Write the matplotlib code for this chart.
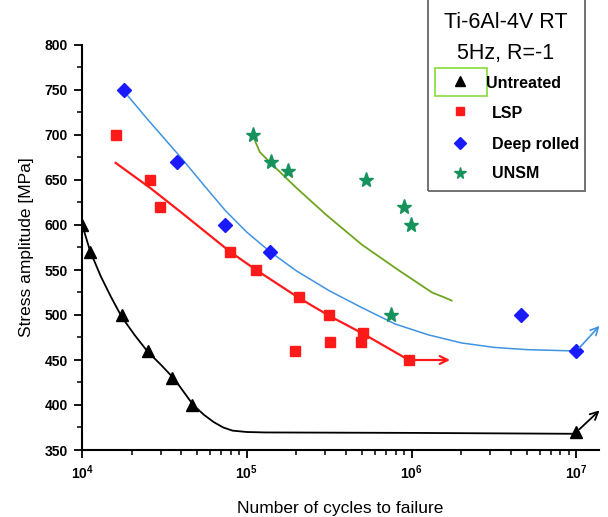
import math
import matplotlib
matplotlib.use('Agg')
import matplotlib.pyplot as plt
from matplotlib.lines import Line2D
from matplotlib.patches import Rectangle
from matplotlib.ticker import LogLocator, MultipleLocator, FuncFormatter, NullFormatter

# ---------------- data ----------------
untreated_n = [1.0e4, 1.12e4, 1.75e4, 2.53e4, 3.53e4, 4.62e4, 1.0e7]
untreated_s = [600, 570, 500, 460, 430, 400, 370]

lsp_n = [1.6e4, 2.59e4, 2.97e4, 7.95e4, 1.14e5, 2.07e5, 3.17e5, 5.1e5, 4.9e5, 3.2e5, 1.95e5, 9.6e5]
lsp_s = [700, 650, 620, 570, 550, 520, 500, 480, 470, 470, 460, 450]

deep_n = [1.79e4, 3.77e4, 7.41e4, 1.39e5, 4.62e6, 1.0e7]
deep_s = [750, 670, 600, 570, 500, 460]

unsm_n = [1.09e5, 1.41e5, 1.78e5, 5.27e5, 9.02e5, 9.95e5, 7.48e5]
unsm_s = [700, 670, 660, 650, 620, 600, 500]

# fitted trend curves
untreated_fit_n = [1.0e4, 1.12e4, 1.3e4, 1.5e4, 1.74e4, 2.1e4, 2.51e4, 3.0e4, 3.63e4, 4.2e4,
                   4.73e4, 5.5e4, 6.3e4, 7.2e4, 8.2e4, 1.0e5, 1.3e5, 1.0e6, 1.0e7]
untreated_fit_s = [601, 571, 543, 520, 498, 477, 459, 445, 429, 413,
                   400, 389, 381, 375, 371.5, 370, 369.5, 369, 368]

lsp_fit_n = [1.6e4, 2.6e4, 4.0e4, 7.95e4, 1.14e5, 2.07e5, 3.17e5, 5.1e5, 9.6e5]
lsp_fit_s = [669, 641, 614, 570, 550, 519, 499, 479, 450]

deep_fit_n = [1.79e4, 2.51e4, 3.98e4, 5.62e4, 7.41e4, 1.0e5, 1.39e5, 2.0e5, 3.16e5, 5.01e5,
              7.94e5, 1.26e6, 2.0e6, 3.16e6, 5.01e6, 1.0e7]
deep_fit_s = [749, 717, 675, 642, 616, 592, 570, 549, 527, 508,
              490, 478, 469, 464, 461.5, 460]

unsm_fit_n = [1.09e5, 1.13e5, 1.2e5, 1.41e5, 1.98e5, 3.0e5, 5.0e5, 8.3e5, 1.33e6, 1.58e6, 1.75e6]
unsm_fit_s = [700, 692, 681, 668, 642, 612, 578, 550, 525, 519.5, 516]

# run-out arrows (start, tip)
lsp_arrow_n, lsp_arrow_s = [9.6e5, 1.71e6], [450, 450]
deep_arrow_n, deep_arrow_s = [1.0e7, 1.38e7], [460, 488]
untreated_arrow_n, untreated_arrow_s = [1.0e7, 1.38e7], [370, 394]

legend_labels = ['Untreated', 'LSP', 'Deep rolled', 'UNSM']
legend_title = ['Ti-6Al-4V RT', '5Hz, R=-1']
x_label = 'Number of cycles to failure'
y_label = 'Stress amplitude [MPa]'

# ---------------- style ----------------
plt.rcParams['font.family'] = ['Liberation Sans', 'DejaVu Sans']
plt.rcParams['mathtext.fontset'] = 'custom'
plt.rcParams['mathtext.rm'] = 'Liberation Sans'
plt.rcParams['mathtext.bf'] = 'Liberation Sans:bold'

C_BLACK = '#000000'
C_RED = '#ff1a1a'
C_BLUE_M = '#1a1aff'
C_BLUE_L = '#3f93e0'
C_GREEN_M = '#16925c'
C_GREEN_L = '#6fa521'

W, H = 608, 517
fig = plt.figure(figsize=(W / 100, H / 100), dpi=100)
ax = fig.add_axes([82 / W, 1 - 450 / H, (599 - 82) / W, (450 - 45) / H])

ax.set_xscale('log')
ax.set_xlim(1e4, 1.37e7)
ax.set_ylim(350, 800)

# fit curves
ax.plot(untreated_fit_n, untreated_fit_s, color=C_BLACK, lw=1.3, zorder=2)
ax.plot(lsp_fit_n, lsp_fit_s, color=C_RED, lw=1.6, zorder=2)
ax.plot(deep_fit_n, deep_fit_s, color=C_BLUE_L, lw=1.1, zorder=2)
ax.plot(unsm_fit_n, unsm_fit_s, color=C_GREEN_L, lw=1.3, zorder=2)

# markers
ax.plot(untreated_n, untreated_s, ls='none', marker='^', ms=8.5, color=C_BLACK, zorder=3)
ax.plot(lsp_n, lsp_s, ls='none', marker='s', ms=7.5, color=C_RED, zorder=3)
ax.plot(deep_n, deep_s, ls='none', marker='D', ms=7, color=C_BLUE_M, zorder=3)
ax.plot(unsm_n, unsm_s, ls='none', marker='*', ms=11, color=C_GREEN_M, zorder=3)

# arrows
for an, as_, col, lw in [(lsp_arrow_n, lsp_arrow_s, C_RED, 1.6),
                         (deep_arrow_n, deep_arrow_s, C_BLUE_L, 1.2),
                         (untreated_arrow_n, untreated_arrow_s, C_BLACK, 1.3)]:
    ax.annotate('', xy=(an[1], as_[1]), xytext=(an[0], as_[0]),
                arrowprops=dict(arrowstyle='->', color=col, lw=lw, mutation_scale=14,
                                shrinkA=3, shrinkB=0),
                annotation_clip=False)

# axes styling
for s in ['top', 'right']:
    ax.spines[s].set_visible(False)
for s in ['left', 'bottom']:
    ax.spines[s].set_linewidth(1.5)

ax.yaxis.set_major_locator(MultipleLocator(50))
ax.yaxis.set_minor_locator(MultipleLocator(25))
ax.xaxis.set_major_locator(LogLocator(base=10, numticks=10))
ax.xaxis.set_minor_locator(LogLocator(base=10, subs=range(2, 10), numticks=20))
ax.xaxis.set_minor_formatter(NullFormatter())
ax.xaxis.set_major_formatter(FuncFormatter(lambda v, p: r'$\mathbf{10^{%d}}$' % round(math.log10(v))))

ax.tick_params(axis='both', which='major', direction='out', length=6, width=1.3,
               labelsize=10, pad=4)
ax.tick_params(axis='both', which='minor', direction='out', length=3.5, width=1.1)
for lab in ax.get_yticklabels():
    lab.set_fontweight('bold')

ax.set_xlabel(x_label, fontsize=12.5, labelpad=13)
ax.set_ylabel(y_label, fontsize=12.5, labelpad=8)

# ---------------- legend box (custom) ----------------
def fx(px):
    return px / W

def fy(py):
    return 1 - py / H

box = Rectangle((fx(428), fy(190.7)), fx(585) - fx(428), fy(-5) - fy(190.7),
                transform=fig.transFigure, fill=False, edgecolor='#666666', lw=1.3,
                clip_on=False)
fig.add_artist(box)

fig.text(fx(506), fy(23), legend_title[0], ha='center', va='center', fontsize=15.5)
fig.text(fx(506), fy(53), legend_title[1], ha='center', va='center', fontsize=15.5)

green_box = Rectangle((fx(435), fy(96)), fx(487) - fx(435), fy(68) - fy(96),
                      transform=fig.transFigure, fill=False, edgecolor='#86dc3c', lw=1.2)
fig.add_artist(green_box)

leg_markers = ['^', 's', 'D', '*']
leg_colors = [C_BLACK, C_RED, C_BLUE_M, C_GREEN_M]
leg_ms = [7.5, 6, 6.5, 8.5]
leg_my = [81, 111, 143, 173]
leg_tx = [486, 492, 492, 492]
leg_ty = [83, 113.5, 144, 173]
for lbl, mk, col, ms, my, tx, ty in zip(legend_labels, leg_markers, leg_colors, leg_ms,
                                        leg_my, leg_tx, leg_ty):
    fig.add_artist(Line2D([fx(460)], [fy(my)], transform=fig.transFigure, ls='none',
                          marker=mk, ms=ms, color=col))
    fig.text(fx(tx), fy(ty), lbl, ha='left', va='center', fontsize=11.5, fontweight='bold')

fig.savefig('out.png', dpi=100)
